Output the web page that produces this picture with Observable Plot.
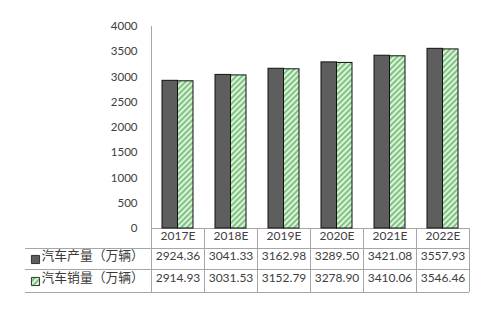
<!DOCTYPE html>
<html>
<head>
<meta charset="utf-8">
<script src="https://cdn.jsdelivr.net/npm/d3@7"></script>
<script src="https://cdn.jsdelivr.net/npm/@observablehq/plot@0.6"></script>
<style>
  html, body { margin: 0; padding: 0; background: #fff; }
  #chart svg { display: block; }
</style>
</head>
<body>
<svg width="0" height="0" style="position:absolute">
  <defs>
    <pattern id="hatch" patternUnits="userSpaceOnUse" width="4" height="4" patternTransform="rotate(45)">
      <rect width="4" height="4" fill="#dcf3dc"></rect>
      <line x1="1" y1="0" x2="1" y2="4" stroke="#7cc17c" stroke-width="1.9"></line>
    </pattern>
  </defs>
</svg>
<div id="chart"></div>
<script>
const years = ["2017E", "2018E", "2019E", "2020E", "2021E", "2022E"];
const production = [2924.36, 3041.33, 3162.98, 3289.50, 3421.08, 3557.93];
const sales = [2914.93, 3031.53, 3152.79, 3278.90, 3410.06, 3546.46];
const seriesNames = ["汽车产量（万辆）", "汽车销量（万辆）"];
const yTicks = [0, 500, 1000, 1500, 2000, 2500, 3000, 3500, 4000];

const W = 488, H = 311;
const mL = 151, mR = 19, mT = 26, mB = 83;
const bw = (W - mL - mR) / years.length;   // column width
const barW = 15.5;
const side = bw / 2 - barW;                // outer gap inset
const frameH = H - mT - mB;

const prodData = years.map((y, i) => ({year: y, value: production[i]}));
const salesData = years.map((y, i) => ({year: y, value: sales[i]}));

const numFont = "Lato, 'Open Sans', sans-serif";
const cjkFont = "'Noto Sans CJK SC', sans-serif";
const txt = "#404040";
const gridC = "#a6a6a6";

const plot = Plot.plot({
  width: W,
  height: H,
  marginLeft: mL,
  marginRight: mR,
  marginTop: mT,
  marginBottom: mB,
  style: {fontFamily: numFont, fontSize: "11.5px", color: txt, background: "#fff"},
  x: {domain: years, paddingInner: 0, paddingOuter: 0, axis: null},
  y: {domain: [0, 4000], ticks: yTicks, tickSize: 0, tickPadding: 14, label: null,
      tickFormat: d => String(d)},
  marks: [
    // y axis line (extends through table)
    Plot.ruleX([years[0]], {x: d => d, dx: -bw / 2, insetBottom: -64, stroke: gridC}),
    // table vertical lines
    Plot.ruleX(years.slice(1), {x: d => d, dx: -bw / 2, insetTop: frameH, insetBottom: -64, stroke: gridC}),
    Plot.ruleX([years[years.length - 1]], {x: d => d, dx: bw / 2, insetTop: frameH, insetBottom: -64, stroke: gridC}),
    // table horizontal lines
    Plot.ruleY([0], {stroke: gridC}),
    Plot.ruleY([0], {dy: 20, insetLeft: -126, stroke: gridC}),
    Plot.ruleY([0], {dy: 41, insetLeft: -126, stroke: gridC}),
    Plot.ruleY([0], {dy: 64, insetLeft: -126, stroke: gridC}),
    // bars
    Plot.barY(prodData, {x: "year", y: "value", fill: "#5e5e5e", stroke: "#111", strokeWidth: 1,
      insetLeft: side, insetRight: bw / 2}),
    Plot.barY(salesData, {x: "year", y: "value", fill: "url(#hatch)", stroke: "#111", strokeWidth: 1,
      insetLeft: bw / 2, insetRight: side}),
    // table header
    Plot.text(years, {x: d => d, frameAnchor: "bottom", dy: 11, text: d => d, fill: txt, fontSize: 12}),
    // table values
    Plot.text(prodData, {x: "year", frameAnchor: "bottom", dy: 31.5, text: d => d.value.toFixed(2), fill: txt, fontSize: 12}),
    Plot.text(salesData, {x: "year", frameAnchor: "bottom", dy: 53.5, text: d => d.value.toFixed(2), fill: txt, fontSize: 12}),
    // row labels
    Plot.dot([seriesNames[0]], {frameAnchor: "bottom-left", dx: -116, dy: 31, symbol: "square", r: 4.6,
      fill: "#5e5e5e", stroke: "#333", strokeWidth: 1}),
    Plot.dot([seriesNames[1]], {frameAnchor: "bottom-left", dx: -116, dy: 53, symbol: "square", r: 4.6,
      fill: "url(#hatch)", stroke: "#333", strokeWidth: 1}),
    Plot.text([seriesNames[0]], {frameAnchor: "bottom-left", dx: -110, dy: 31, text: d => d, textAnchor: "start",
      fontFamily: cjkFont, fontSize: 12.8, fill: "#3a3a3a"}),
    Plot.text([seriesNames[1]], {frameAnchor: "bottom-left", dx: -110, dy: 53, text: d => d, textAnchor: "start",
      fontFamily: cjkFont, fontSize: 12.8, fill: "#3a3a3a"})
  ]
});
document.getElementById("chart").appendChild(plot);
</script>
</body>
</html>
